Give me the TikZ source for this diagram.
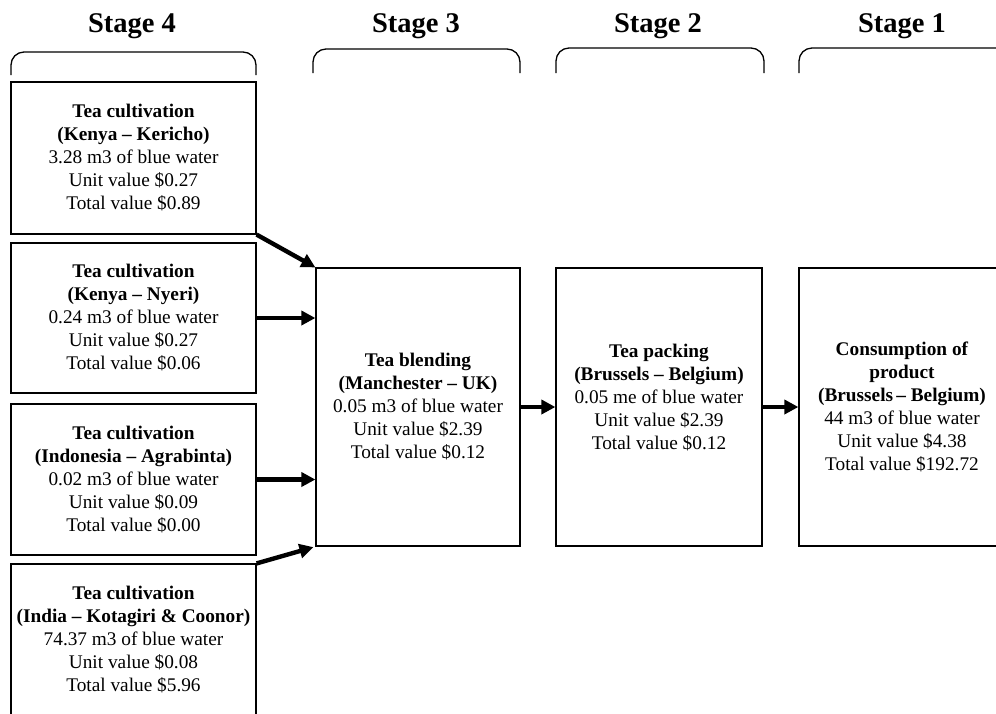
\documentclass[tikz,border=0pt]{standalone}
\usepackage{fontspec}
\setmainfont{Liberation Serif}
\usetikzlibrary{arrows.meta}
\tikzset{
  box/.style={draw, line width=1.2pt, inner sep=0pt, align=center, font=\fontsize{19.3}{23}\selectfont},
  txt/.style={inner sep=0pt, align=center, font=\fontsize{19.3}{23}\selectfont},
  flow/.style={line width=4.4pt, -{Triangle[length=14pt,width=14pt]}},
  brk/.style={line width=1.3pt, rounded corners=13pt},
  title/.style={font=\fontsize{28.5}{32}\selectfont\bfseries, anchor=base, inner sep=0pt}
}
\begin{document}
\begin{tikzpicture}[x=1pt,y=-1pt]
\useasboundingbox (0,0) rectangle (996,713);
\clip (0,0) rectangle (996,713);
% titles
\node[title] (t4) at (132,32) {Stage 4};
\node[title] (t3) at (416,32) {Stage 3};
\node[title] (t2) at (658,32) {Stage 2};
\node[title] (t1) at (902,32) {Stage 1};
% brackets
\draw[brk] (11,75) -- (11,52) -- (256,52) -- (256,75);
\draw[brk] (313,73) -- (313,49) -- (520,49) -- (520,73);
\draw[brk] (556,73) -- (556,48) -- (764,48) -- (764,73);
\draw[brk] (799,73) -- (799,48) -- (1040,48) -- (1040,73);
% stage 4 boxes
\node[box, minimum width=245pt, minimum height=152pt] (k1) at (133.5,158)
  {\textbf{Tea cultivation}\\\textbf{(Kenya – Kericho)}\\3.28 m3 of blue water\\Unit value \$0.27\\Total value \$0.89};
\node[box, minimum width=245pt, minimum height=150pt] (k2) at (133.5,318)
  {\textbf{Tea cultivation}\\\textbf{(Kenya – Nyeri)}\\0.24 m3 of blue water\\Unit value \$0.27\\Total value \$0.06};
\node[box, minimum width=245pt, minimum height=151pt] (k3) at (133.5,479.5)
  {\textbf{Tea cultivation}\\\textbf{(Indonesia – Agrabinta)}\\0.02 m3 of blue water\\Unit value \$0.09\\Total value \$0.00};
\node[box, minimum width=245pt, minimum height=152pt] (k4) at (133.5,640)
  {\textbf{Tea cultivation}\\\textbf{(India – Kotagiri \& Coonor)}\\74.37 m3 of blue water\\Unit value \$0.08\\Total value \$5.96};
% stage 3
\node[box, minimum width=204pt, minimum height=278pt] (s3) at (418,407)
  {\textbf{Tea blending}\\\textbf{(Manchester – UK)}\\0.05 m3 of blue water\\Unit value \$2.39\\Total value \$0.12};
% stage 2
\node[box, minimum width=206pt, minimum height=278pt] (s2) at (659,407) {};
\node[txt] (s2t) at ([yshift=9pt]s2.center)
  {\textbf{Tea packing}\\\textbf{(Brussels – Belgium)}\\0.05 me of blue water\\Unit value \$2.39\\Total value \$0.12};
% stage 1
\node[box, minimum width=206pt, minimum height=278pt] (s1) at (902,407)
  {\textbf{Consumption of}\\\textbf{product}\\\textbf{(Brussels\,– Belgium)}\\44 m3 of blue water\\Unit value \$4.38\\Total value \$192.72};
% arrows
\draw[flow] (k1.south east) -- (s3.north west);
\draw[flow] (k2.east) -- (k2.east -| s3.west);
\draw[flow] (k3.east) -- (k3.east -| s3.west);
\draw[flow, shorten >=2pt] (k4.north east) -- (s3.south west);
\draw[flow] (s3.east) -- (s2.west);
\draw[flow] (s2.east) -- (s1.west);
\end{tikzpicture}
\end{document}
